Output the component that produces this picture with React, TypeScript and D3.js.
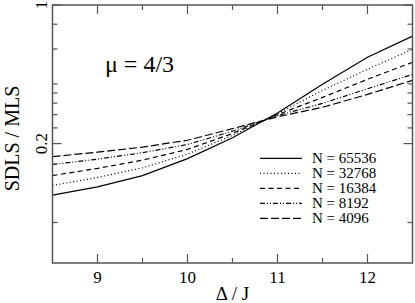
import * as d3 from "d3";
import { useEffect, useRef } from "react";

const deltaJ = [8.5, 9, 9.5, 10, 10.5, 11, 11.5, 12, 12.5];

const n65536 = [0.11, 0.121, 0.138, 0.168, 0.214, 0.285, 0.398, 0.545, 0.697];
const n32768 = [0.123, 0.135, 0.151, 0.177, 0.22, 0.283, 0.371, 0.474, 0.598];
const n16384 = [0.138, 0.15, 0.165, 0.187, 0.225, 0.28, 0.342, 0.422, 0.514];
const n8192 = [0.157, 0.167, 0.18, 0.198, 0.231, 0.277, 0.319, 0.378, 0.447];
const n4096 = [0.172, 0.181, 0.192, 0.208, 0.238, 0.273, 0.305, 0.354, 0.417];

const seriesLabels = ["N = 65536", "N = 32768", "N = 16384", "N = 8192", "N = 4096"];
const seriesValues = [n65536, n32768, n16384, n8192, n4096];
const dashes = ["none", "1,2.5", "5,3.5", "5,2,1,2,1,2", "8,3"];

const xMajor = [9, 10, 11, 12];
const xMinor = [9.5, 10.5, 11.5];
const yMajor = [0.2, 1];
const yMajorLabels = ["0.2", "1"];
const yMinor = [0.08, 0.24, 0.28, 0.32, 0.36, 0.4, 0.6, 0.8];

const App = () => {
  const svgRef = useRef<SVGSVGElement | null>(null);

  useEffect(() => {
    if (!svgRef.current) return;

    const width = 415;
    const height = 303;
    const margin = { top: 5, right: 2.5, bottom: 40, left: 52.5 };
    const x0 = margin.left;
    const x1 = width - margin.right;
    const y0 = height - margin.bottom;
    const y1 = margin.top;

    const xScale = d3.scaleLinear().domain([8.5, 12.5]).range([x0, x1]);
    const yScale = d3.scaleLog().domain([0.05, 1]).range([y0, y1]);

    const svg = d3.select(svgRef.current);
    svg.selectAll("*").remove();

    const font = "'Liberation Serif', 'DejaVu Serif', serif";
    const frame = "#555";

    // data lines
    const line = d3
      .line<number>()
      .x((_, i) => xScale(deltaJ[i]))
      .y((d) => yScale(d));

    const plot = svg.append("g");
    seriesValues.forEach((vals, i) => {
      plot
        .append("path")
        .datum(vals)
        .attr("fill", "none")
        .attr("stroke", "#000")
        .attr("stroke-width", 1.2)
        .attr("stroke-dasharray", dashes[i])
        .attr("d", line);
    });

    // frame
    svg
      .append("rect")
      .attr("x", x0)
      .attr("y", y1)
      .attr("width", x1 - x0)
      .attr("height", y0 - y1)
      .attr("fill", "none")
      .attr("stroke", frame)
      .attr("stroke-width", 1.5);

    const ticks = svg.append("g").attr("stroke", frame).attr("stroke-width", 1.2);

    // x ticks, inward on bottom and top
    const xTick = (v: number, len: number) => {
      ticks.append("line").attr("x1", xScale(v)).attr("x2", xScale(v)).attr("y1", y0).attr("y2", y0 - len);
      ticks.append("line").attr("x1", xScale(v)).attr("x2", xScale(v)).attr("y1", y1).attr("y2", y1 + len);
    };
    xMajor.forEach((v) => xTick(v, 9));
    xMinor.forEach((v) => xTick(v, 5));

    // y ticks, inward on left and right
    const yTick = (v: number, len: number) => {
      ticks.append("line").attr("x1", x0).attr("x2", x0 + len).attr("y1", yScale(v)).attr("y2", yScale(v));
      ticks.append("line").attr("x1", x1).attr("x2", x1 - len).attr("y1", yScale(v)).attr("y2", yScale(v));
    };
    yMajor.forEach((v) => yTick(v, 9));
    yMinor.forEach((v) => yTick(v, 5));

    const texts = svg.append("g").style("font-family", font);

    // tick labels
    texts
      .append("g")
      .selectAll("text")
      .data(xMajor)
      .join("text")
      .attr("x", (d) => xScale(d))
      .attr("y", 283)
      .attr("text-anchor", "middle")
      .style("font-size", "17px")
      .text((d) => String(d));

    texts
      .append("g")
      .selectAll("text")
      .data(yMajor)
      .join("text")
      .attr("transform", (d) => `translate(47,${yScale(d)}) rotate(-90)`)
      .attr("text-anchor", "middle")
      .style("font-size", "17px")
      .text((_, i) => yMajorLabels[i]);

    // axis titles
    texts
      .append("text")
      .attr("x", (x0 + x1) / 2)
      .attr("y", 300)
      .attr("text-anchor", "middle")
      .style("font-size", "19px")
      .text("Δ / J");

    texts
      .append("text")
      .attr("transform", `translate(19,138.5) rotate(-90)`)
      .attr("text-anchor", "middle")
      .style("font-size", "20px")
      .text("SDLS / MLS");

    texts
      .append("text")
      .attr("x", 105)
      .attr("y", 72)
      .style("font-size", "24px")
      .text("μ = 4/3");

    // legend
    seriesLabels.forEach((label, i) => {
      const ly = 158.3 + i * 15;
      svg
        .append("line")
        .attr("x1", 260)
        .attr("x2", 302)
        .attr("y1", ly)
        .attr("y2", ly)
        .attr("stroke", "#000")
        .attr("stroke-width", 1.2)
        .attr("stroke-dasharray", dashes[i]);
      texts
        .append("text")
        .attr("x", 312)
        .attr("y", ly + 5)
        .style("font-size", "15px")
        .text(label);
    });
  }, []);

  return (
    <svg
      ref={svgRef}
      width={415}
      height={303}
      style={{ position: "absolute", left: 0, top: 0, background: "#fff" }}
    ></svg>
  );
};

export default App;
